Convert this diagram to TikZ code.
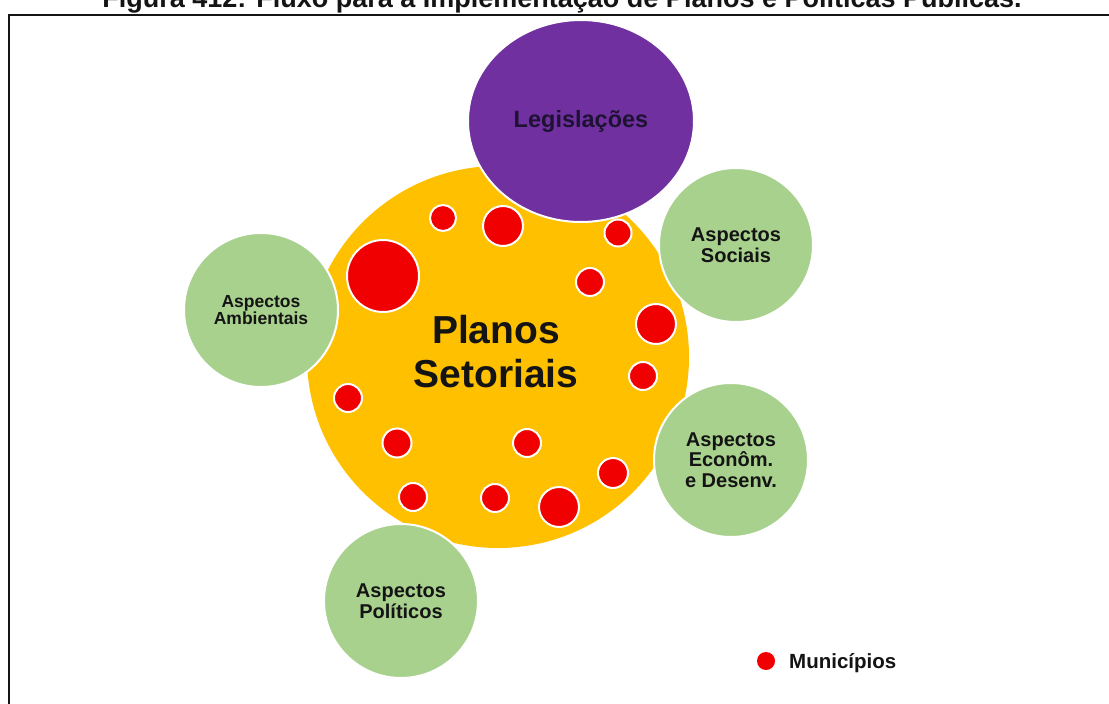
\documentclass[tikz,border=0pt]{standalone}
\usepackage{fontspec}
\setmainfont{Liberation Sans}
\usetikzlibrary{shapes.geometric}
\definecolor{gold}{HTML}{FFC000}
\definecolor{purp}{HTML}{7030A0}
\definecolor{lgreen}{HTML}{A9D18E}
\definecolor{mred}{HTML}{F00000}
\definecolor{ink}{HTML}{141414}
\definecolor{leginkc}{HTML}{1E1233}
\begin{document}
\begin{tikzpicture}[x=1pt,y=-1pt,
  aspect/.style={circle, fill=lgreen, draw=white, line width=2pt, inner sep=0pt,
    minimum size=154pt, align=center, text=ink,
    font=\bfseries\fontsize{20}{20.5}\selectfont},
  muni/.style={circle, fill=mred, draw=white, line width=2pt, inner sep=0pt},
  framestyle/.style={line width=2.5pt, draw=ink}
]
\useasboundingbox (0,0) rectangle (1109,704);
\fill[white] (0,0) rectangle (1109,704);
% title (partly cut off at top, as in the reference)
\node[font=\bfseries\fontsize{27}{27}\selectfont, anchor=base, text=ink, inner sep=0pt]
  (title) at (562,8) {Figura 412: Fluxo para a Implementação de Planos e Políticas Públicas.};
% frame
\coordinate (fa) at (1112,15);
\coordinate (fb) at (9,15);
\coordinate (fc) at (9,708);
\draw[framestyle] (fa) -- (fb) -- (fc);
% central circle
\node[circle, fill=gold, inner sep=0pt, minimum size=382pt] (plan) at (498,357) {};
% municipalities
\node[muni, minimum size=26pt] (m1) at (443,218) {};
\node[muni, minimum size=40pt] (m2) at (503,226) {};
\node[muni, minimum size=27pt] (m3) at (618,233) {};
\node[muni, minimum size=72pt] (m4) at (383,276) {};
\node[muni, minimum size=28pt] (m5) at (590,282) {};
\node[muni, minimum size=40pt] (m6) at (656,324) {};
\node[muni, minimum size=28pt] (m7) at (643,376) {};
\node[muni, minimum size=28pt] (m8) at (348,398) {};
\node[muni, minimum size=29pt] (m9) at (397,443) {};
\node[muni, minimum size=28pt] (m10) at (527,443) {};
\node[muni, minimum size=30pt] (m11) at (613,473) {};
\node[muni, minimum size=28pt] (m12) at (413,497) {};
\node[muni, minimum size=28pt] (m13) at (495,498) {};
\node[muni, minimum size=40pt] (m14) at (559,507) {};
\node[font=\bfseries\fontsize{39}{44}\selectfont, align=center, text=ink, inner sep=0pt]
  (plantxt) at (496,352) {Planos\\Setoriais};
% surrounding circles
\node[ellipse, fill=purp, draw=white, line width=2pt, inner sep=0pt,
  minimum width=226pt, minimum height=202pt, text=leginkc,
  font=\bfseries\fontsize{23.5}{23.5}\selectfont] (leg) at (581,121) {Legislações};
\node[aspect, font=\bfseries\fontsize{17.5}{17}\selectfont] (amb) at (261,310) {Aspectos\\Ambientais};
\node[aspect] (soc) at (736,245) {Aspectos\\Sociais};
\node[aspect] (eco) at (731,460) {Aspectos\\Econôm.\\e Desenv.};
\node[aspect] (pol) at (401,601) {Aspectos\\Políticos};
% legend
\node[circle, fill=mred, inner sep=0pt, minimum size=18pt] (legdot) at (766,661) {};
\node[anchor=base west, inner sep=0pt, text=ink, font=\bfseries\fontsize{20.5}{20.5}\selectfont]
  (legtxt) at (789,668) {Municípios};
\end{tikzpicture}
\end{document}
